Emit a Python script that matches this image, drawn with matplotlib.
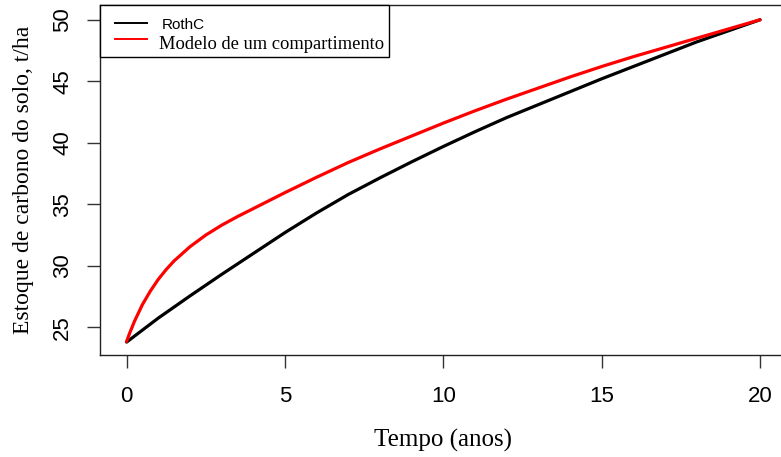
import matplotlib
matplotlib.use("Agg")
import matplotlib.pyplot as plt
from matplotlib.patches import Rectangle
from matplotlib.lines import Line2D

# Data
anos_rothc = [0, 1, 2, 3, 4, 5, 6, 7, 8, 9, 10, 11, 12, 13, 14, 15, 16, 17, 18, 19, 20]
estoque_rothc = [23.8, 25.75, 27.55, 29.3, 31.0, 32.7, 34.3, 35.8, 37.15, 38.45, 39.7,
                 40.9, 42.05, 43.1, 44.15, 45.2, 46.2, 47.2, 48.2, 49.1, 50.0]

anos_modelo = [0, 0.1, 0.25, 0.5, 0.75, 1, 1.25, 1.5, 2, 2.5, 3, 3.5, 4, 5, 6, 7, 8,
               9, 10, 11, 12, 13, 14, 15, 16, 17, 18, 19, 20]
estoque_modelo = [23.85, 24.55, 25.5, 26.85, 27.95, 28.9, 29.7, 30.4, 31.55, 32.5,
                  33.3, 34.0, 34.65, 35.95, 37.2, 38.4, 39.5, 40.55, 41.6, 42.6,
                  43.55, 44.45, 45.35, 46.2, 47.0, 47.75, 48.5, 49.25, 50.0]

serie_nomes = ["RothC", "Modelo de um compartimento"]
serie_cores = ["black", "#ff0000"]
x_ticks = [0, 5, 10, 15, 20]
y_ticks = [25, 30, 35, 40, 45, 50]

W, H = 781, 457
fig = plt.figure(figsize=(W / 100, H / 100), dpi=100)
ax = fig.add_axes([100 / W, 102 / H, 685.4 / W, 350 / H])

ax.plot(anos_rothc, estoque_rothc, color=serie_cores[0], lw=2.3,
        label=serie_nomes[0], solid_capstyle="round")
ax.plot(anos_modelo, estoque_modelo, color=serie_cores[1], lw=2.3,
        label=serie_nomes[1], solid_capstyle="round")

ax.set_xlim(-0.84, 20.8)
ax.set_ylim(22.75, 51.2)
ax.set_xticks(x_ticks)
ax.set_yticks(y_ticks)

for s in ax.spines.values():
    s.set_linewidth(1.0)
    s.set_color("#222222")

ax.tick_params(axis="both", length=9.4, width=1.0, color="#333333",
               labelsize=16)
ax.tick_params(axis="x", pad=13)
ax.tick_params(axis="y", pad=10)
for lab in ax.get_xticklabels() + ax.get_yticklabels():
    lab.set_fontfamily("Liberation Sans")
for lab in ax.get_yticklabels():
    lab.set_rotation(90)
    lab.set_va("center")

ax.set_xlabel("Tempo (anos)", fontfamily="Liberation Serif", fontsize=18, labelpad=16)
ax.set_ylabel("Estoque de carbono do solo, t/ha", fontfamily="Liberation Serif",
              fontsize=17, labelpad=13)

# Legend box (R-style), positioned in figure pixels
def fx(px):
    return px / W


def fy(py):
    return 1 - py / H


fig.add_artist(Rectangle((fx(100), fy(57.3)), fx(389) - fx(100), fy(5) - fy(57.3),
                         transform=fig.transFigure, facecolor="white",
                         edgecolor="black", linewidth=1.0, zorder=5))
line_y = [22.7, 39.3]
text_base = [29.3, 48.7]
text_x = [162, 158.7]
text_font = [("Liberation Sans", 11), ("Liberation Serif", 13.3)]
for i, nome in enumerate(serie_nomes):
    fig.add_artist(Line2D([fx(115), fx(147)], [fy(line_y[i]), fy(line_y[i])],
                          transform=fig.transFigure, color=serie_cores[i],
                          lw=1.4, zorder=6))
    fig.text(fx(text_x[i]), fy(text_base[i]), nome, ha="left", va="baseline",
             fontfamily=text_font[i][0], fontsize=text_font[i][1], zorder=6)

fig.savefig("out.png", dpi=100)
